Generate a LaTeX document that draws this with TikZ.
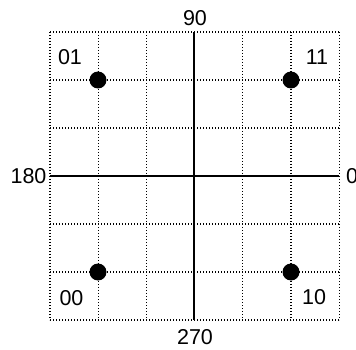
\documentclass[tikz,border=0pt]{standalone}
\usepackage{fontspec}
\setmainfont{Liberation Sans}
\begin{document}
\begin{tikzpicture}[x=1pt,y=-1pt,
  gridline/.style={line width=1.3pt,dash pattern=on 1.3pt off 1.7pt},
  axis/.style={line width=1.4pt},
  pt/.style={circle,fill=black,inner sep=0pt,minimum size=17pt},
  lbl/.style={font=\fontsize{21.5}{24}\selectfont,inner sep=0pt}]
\useasboundingbox (0,0) rectangle (356,350);
\foreach \i in {0,...,6}{
  \draw[gridline] ({50+48.2*\i},32) -- ({50+48.2*\i},320);
  \draw[gridline] (50,{32+48*\i}) -- (339,{32+48*\i});
}
\coordinate (L) at (50,176);
\coordinate (R) at (339,176);
\coordinate (T) at (194,32);
\coordinate (B) at (194,320);
\draw[axis] (L) -- (R);
\draw[axis] (T) -- (B);
\node[pt] (p01) at (98,80) {};
\node[pt] (p11) at (291,80) {};
\node[pt] (p00) at (98,272) {};
\node[pt] (p10) at (291,272) {};
\node[lbl] (l90) at (195,18) {90};
\node[lbl] (l270) at (195,337) {270};
\node[lbl] (l180) at (28.5,176) {180};
\node[lbl] (l0) at (352,176) {0};
\node[lbl] (l01) at (70,57) {01};
\node[lbl] (l11) at (317,57) {11};
\node[lbl] (l00) at (71.5,298) {00};
\node[lbl] (l10) at (314,297) {10};
\end{tikzpicture}
\end{document}
